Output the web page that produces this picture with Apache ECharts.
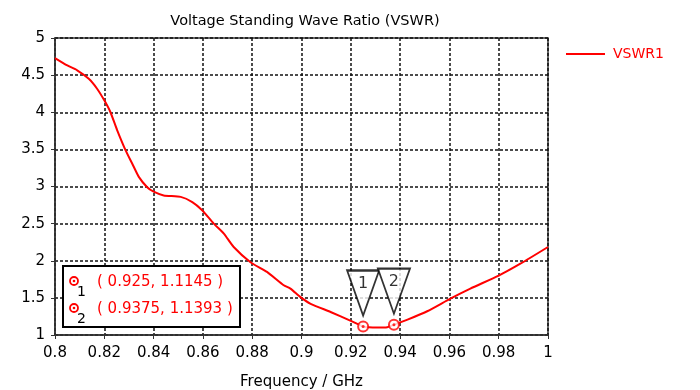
<!DOCTYPE html>
<html>
<head>
<meta charset="utf-8">
<script src="https://cdn.jsdelivr.net/npm/echarts@6/dist/echarts.min.js"></script>
<style>html,body{margin:0;padding:0;background:#fff;}#c{width:700px;height:390px;}</style>
</head>
<body>
<div id="c"></div>
<script>
var freq = [0.8, 0.805, 0.809, 0.8137, 0.817, 0.820, 0.8225, 0.8252, 0.8286, 0.8313, 0.834, 0.8374, 0.840, 0.8441, 0.851, 0.8557, 0.8597, 0.8644, 0.8685, 0.8725, 0.8793, 0.886, 0.8928, 0.8955, 0.8996, 0.9037, 0.9118, 0.92, 0.925, 0.9307, 0.9348, 0.9375, 0.943, 0.951, 0.9604, 0.9685, 0.98, 0.9888, 1.0];
var vswr = [4.73, 4.63, 4.565, 4.45, 4.32, 4.16, 4.0, 3.76, 3.49, 3.31, 3.13, 2.99, 2.93, 2.88, 2.86, 2.79, 2.68, 2.50, 2.366, 2.185, 1.98, 1.85, 1.67, 1.625, 1.51, 1.42, 1.31, 1.19, 1.1145, 1.10, 1.105, 1.1393, 1.207, 1.32, 1.49, 1.625, 1.80, 1.96, 2.185];
var markerIds = ['1', '2'];
var markerFreq = [0.925, 0.9375];
var markerVswr = [1.1145, 1.1393];
var seriesName = 'VSWR1';
var titleText = 'Voltage Standing Wave Ratio (VSWR)';
var xName = 'Frequency / GHz';

var FONT = "'DejaVu Sans', sans-serif";
var RED = '#ff0000';

var lineData = freq.map(function (f, i) { return [f, vswr[i]]; });
var markData = markerFreq.map(function (f, i) { return [f, markerVswr[i]]; });

var graphics = [{
  type: 'rect', shape: { x: 63, y: 266, width: 177, height: 61 },
  style: { fill: '#fff', stroke: '#000', lineWidth: 2 }, z: 100
}];
markerIds.forEach(function (id, i) {
  var cy = 281 + i * 27;
  graphics.push({ type: 'circle', shape: { cx: 74, cy: cy, r: 4 }, style: { fill: '#fff', stroke: RED, lineWidth: 1.8 }, z: 101 });
  graphics.push({ type: 'circle', shape: { cx: 74, cy: cy, r: 1.3 }, style: { fill: RED }, z: 102 });
  graphics.push({ type: 'text', x: 77, y: cy + 11, style: { text: id, fill: '#000', font: "14px " + FONT, verticalAlign: 'middle' }, z: 102 });
  graphics.push({ type: 'text', x: 97, y: cy + 1, style: { text: '( ' + markerFreq[i] + ', ' + markerVswr[i] + ' )', fill: RED, font: "15px " + FONT, verticalAlign: 'middle' }, z: 102 });
});

var chart = echarts.init(document.getElementById('c'));
chart.setOption({
  animation: false,
  backgroundColor: '#fff',
  title: {
    text: titleText, left: 300, top: 9, textAlign: 'center',
    textStyle: { fontFamily: FONT, fontSize: 14.5, fontWeight: 'normal', color: '#000' }
  },
  legend: {
    data: [seriesName], left: 561, top: 42, itemWidth: 39, itemHeight: 2, icon: 'rect',
    textStyle: { fontFamily: FONT, fontSize: 14, color: RED, padding: [0, 0, 0, 3] }
  },
  grid: {
    left: 55, right: 152, top: 38, bottom: 55, containLabel: false, outerBoundsMode: 'none',
    show: true, borderColor: '#333', borderWidth: 1.5, backgroundColor: 'transparent'
  },
  xAxis: {
    type: 'value', min: 0.8, max: 1, interval: 0.02,
    name: xName, nameLocation: 'middle', nameGap: 40,
    nameTextStyle: { fontFamily: FONT, fontSize: 15, color: '#000' },
    axisLine: { lineStyle: { color: '#333', width: 1.5 } },
    axisTick: { show: true, length: 4, lineStyle: { color: '#333' } },
    axisLabel: { fontFamily: FONT, fontSize: 15, color: '#000', margin: 11 },
    splitLine: { show: true, lineStyle: { color: '#111', type: [3, 2], width: 1.5 } }
  },
  yAxis: {
    type: 'value', min: 1, max: 5, interval: 0.5,
    axisLine: { show: true, lineStyle: { color: '#333', width: 1.5 } },
    axisTick: { show: true, length: 4, lineStyle: { color: '#333' } },
    axisLabel: { fontFamily: FONT, fontSize: 15, color: '#000', margin: 10 },
    splitLine: { show: true, lineStyle: { color: '#111', type: [3, 2], width: 1.5 } }
  },
  series: [
    {
      name: seriesName, type: 'line', data: lineData, symbol: 'none', smooth: 0.2,
      lineStyle: { color: RED, width: 2 }, itemStyle: { color: RED }, z: 5
    },
    {
      name: 'triangles', type: 'scatter', data: markData,
      symbol: 'path://M0,0L32,0L16,45Z', symbolSize: [32, 45], symbolOffset: [0, -33.5],
      itemStyle: { color: '#fff', borderColor: '#000', borderWidth: 2 },
      label: {
        show: true, position: 'inside', offset: [0, -9],
        formatter: function (p) { return markerIds[p.dataIndex]; },
        fontFamily: FONT, fontSize: 16, color: '#000'
      },
      z: 6
    },
    {
      name: 'rings', type: 'scatter', data: markData, symbol: 'circle', symbolSize: 10,
      itemStyle: { color: '#fff', borderColor: RED, borderWidth: 2 }, z: 7
    },
    {
      name: 'dots', type: 'scatter', data: markData, symbol: 'circle', symbolSize: 3,
      itemStyle: { color: RED }, z: 8
    }
  ],
  graphic: graphics
});
</script>
</body>
</html>
